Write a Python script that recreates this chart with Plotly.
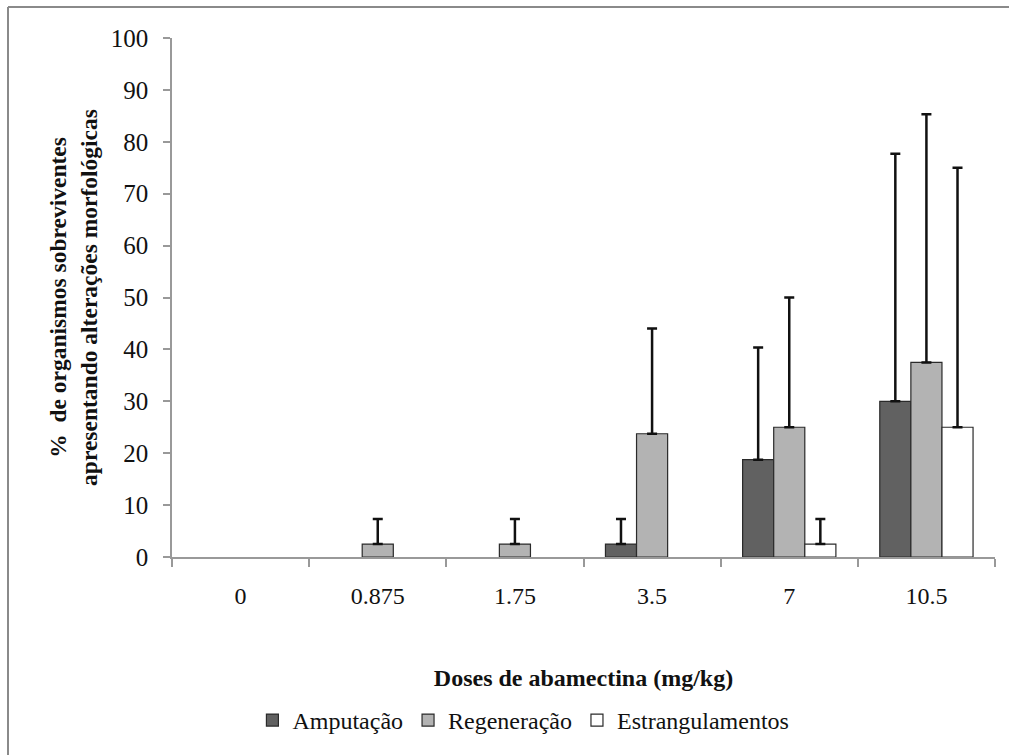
import plotly.graph_objects as go

doses = ["0", "0.875", "1.75", "3.5", "7", "10.5"]
amputacao = [0, 0, 0, 2.5, 18.75, 30]
amputacao_err = [0, 0, 0, 4.8, 21.6, 47.7]
regeneracao = [0, 2.5, 2.5, 23.75, 25, 37.5]
regeneracao_err = [0, 4.8, 4.8, 20.3, 25, 47.8]
estrangulamentos = [0, 0, 0, 0, 2.5, 25]
estrangulamentos_err = [0, 0, 0, 0, 4.8, 50]

series = [
    ("Amputação", amputacao, amputacao_err, "#616161"),
    ("Regeneração", regeneracao, regeneracao_err, "#b3b3b3"),
    ("Estrangulamentos", estrangulamentos, estrangulamentos_err, "#ffffff"),
]

font_family = "Liberation Serif"

fig = go.Figure()
for name, vals, errs, color in series:
    yv = [v if v > 0 else None for v in vals]
    fig.add_trace(go.Bar(
        name=name, x=doses, y=yv,
        marker=dict(color=color, line=dict(color="#2a2a2a", width=1.2)),
        error_y=dict(type="data", array=errs, arrayminus=[0]*len(errs), symmetric=False,
                     color="#111111", thickness=2.5, width=5,
                     visible=True),
    ))

L, R, T, B = 172, 14, 38, 198
W, H = 1009, 755
pw = W - L - R
ph = H - T - B

fig.update_layout(
    width=W, height=H,
    margin=dict(l=L, r=R, t=T, b=B),
    paper_bgcolor="white", plot_bgcolor="white",
    barmode="group", bargap=0.32, bargroupgap=0,
    font=dict(family=font_family, size=24, color="#111"),
    showlegend=True,
    legend=dict(orientation="h", x=0.427, xanchor="center", y=-0.315, yanchor="middle",
                font=dict(family=font_family, size=24, color="#111"),
                itemwidth=30, traceorder="normal"),
    xaxis=dict(
        type="category", tickson="boundaries", ticks="outside", ticklen=8,
        tickcolor="#999", tickwidth=1.5,
        showline=True, linecolor="#999", linewidth=1.5,
        showgrid=False, zeroline=False, ticklabelstandoff=16,
        tickfont=dict(family=font_family, size=24, color="#111"),
        title=dict(text="<b>Doses de abamectina (mg/kg)</b>",
                   font=dict(family=font_family, size=24, color="#111"), standoff=62),
    ),
    yaxis=dict(
        range=[0, 100], tickvals=list(range(0, 101, 10)),
        ticks="outside", ticklen=7, tickcolor="#999", tickwidth=1.5,
        showline=True, linecolor="#999", linewidth=1.5,
        showgrid=False, zeroline=False, ticklabelstandoff=10,
        tickfont=dict(family=font_family, size=25, color="#111"),
        title=dict(text="<b>%  de organismos sobreviventes<br>apresentando alterações morfológicas</b>",
                   font=dict(family=font_family, size=23.5, color="#111"), standoff=7),
    ),
)

# Outer frame (top and left edges visible)
x_left = (8 - L) / pw
y_top = 1 + (T - 7) / ph
fig.add_shape(type="line", xref="paper", yref="paper", x0=x_left, x1=1 + (R + 5) / pw,
              y0=y_top, y1=y_top, line=dict(color="#8a8a8a", width=2))
fig.add_shape(type="line", xref="paper", yref="paper", x0=x_left, x1=x_left,
              y0=y_top, y1=-(B + 5) / ph, line=dict(color="#8a8a8a", width=2))

fig.write_html("out.html")
